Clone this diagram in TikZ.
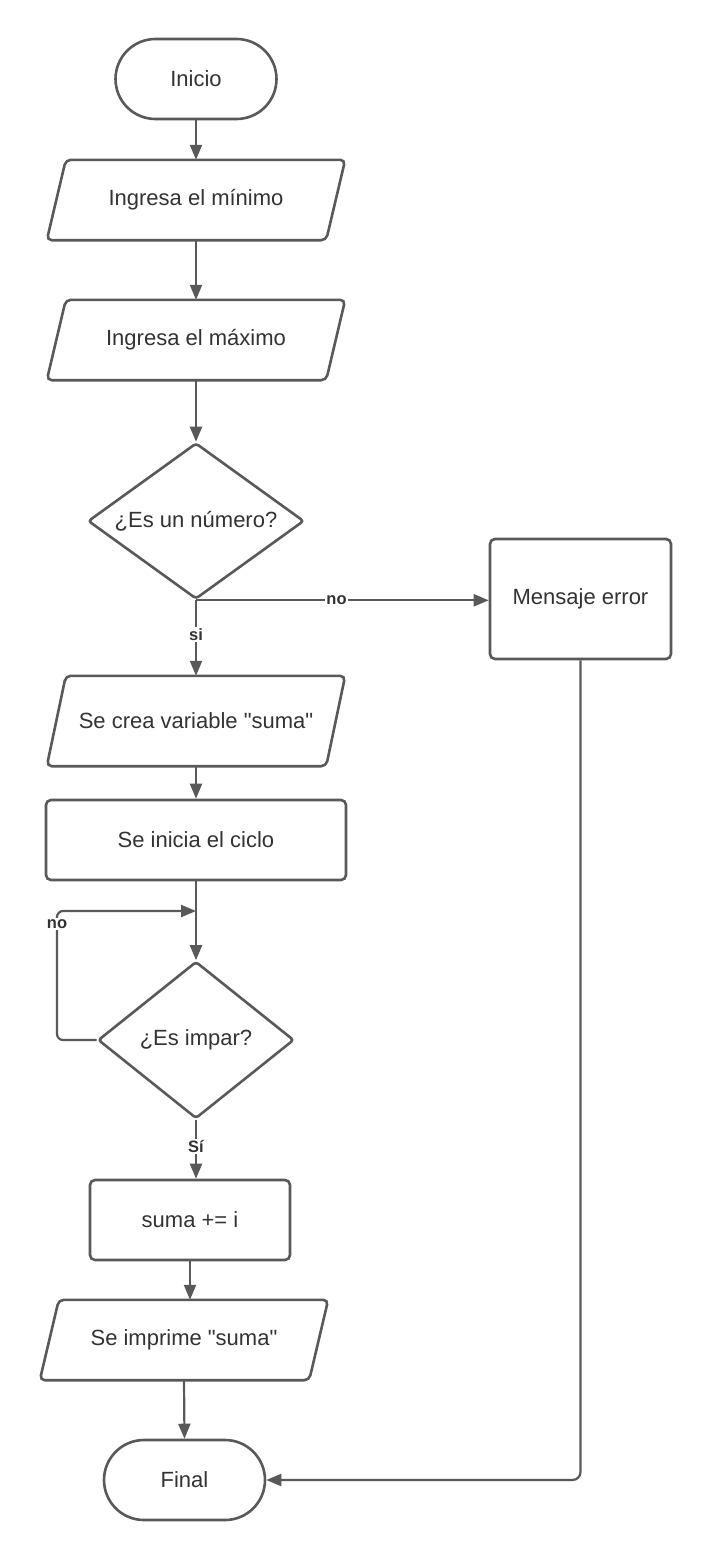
\documentclass[tikz,border=0pt]{standalone}
\usepackage{fontspec}
\setmainfont{Liberation Sans}
\usetikzlibrary{shapes.geometric,arrows.meta}
\definecolor{ln}{HTML}{595959}
\definecolor{tx}{HTML}{333333}
\newcommand{\drawpara}[1]{\draw[shp] ([xshift=19pt]#1.north west) -- (#1.north east) -- ([xshift=-19pt]#1.south east) -- (#1.south west) -- cycle;}
\begin{document}
\begin{tikzpicture}[x=1pt,y=-1pt,
  txt/.style={text=tx,font=\fontsize{22}{26}\selectfont,inner sep=0pt},
  shp/.style={draw=ln,line width=2.6pt,rounded corners=5pt},
  term/.style={txt,draw=ln,line width=2.6pt,rounded corners=40pt,minimum width=161pt,minimum height=80pt},
  proc/.style={txt,draw=ln,line width=2.6pt,rounded corners=5pt,minimum height=80pt},
  io/.style={txt,minimum height=80pt},
  dec/.style={txt,draw=ln,line width=2.6pt,diamond,rounded corners=3pt,aspect=1.385},
  arr/.style={draw=ln,line width=2.2pt,-{Triangle[length=15pt,width=12pt]}},
  lbl/.style={text=tx,font=\bfseries\fontsize{16.5}{19}\selectfont,fill=white,inner sep=1.5pt}
]
\useasboundingbox[fill=white] (0,0) rectangle (711,1560);

\node[term] (ini) at (196,79) {Inicio};
\node[io,minimum width=298pt] (p1) at (196,200) {Ingresa el mínimo};
\drawpara{p1}
\node[io,minimum width=298pt] (p2) at (196,340) {Ingresa el máximo};
\drawpara{p2}
\node[dec,minimum width=216pt,minimum height=156pt] (d1) at (196,521) {¿Es un número?};
\node[proc,minimum width=181pt,minimum height=120pt] (err) at (580.5,599) {Mensaje error};
\node[io,minimum width=298pt,minimum height=90pt] (p3) at (196,721) {Se crea variable \textquotedbl suma\textquotedbl};
\drawpara{p3}
\node[proc,minimum width=300pt] (cic) at (196,840) {Se inicia el ciclo};
\node[dec,minimum width=196pt,minimum height=157pt] (d2) at (196,1040) {¿Es impar?};
\node[proc,minimum width=200pt] (sum) at (190,1220) {suma += i};
\node[io,minimum width=288pt] (p4) at (184,1340) {Se imprime \textquotedbl suma\textquotedbl};
\drawpara{p4}
\node[term] (fin) at (184.5,1480) {Final};

\coordinate (join) at (196,911);
\coordinate (loopx) at (57,1040);

\draw[arr] (ini.south) -- (p1.north);
\draw[arr] (p1.south) -- (p2.north);
\draw[arr] (p2.south) -- (d1.north);
\draw[arr] (d1.south) -- node[lbl,pos=0.48] (no1) {no} (d1.south -| err.west);
\draw[arr] (d1.south) -- node[lbl,pos=0.45] (si1) {si} (p3.north);
\draw[arr] (p3.south) -- (cic.north);
\draw[arr] (cic.south) -- (d2.north);
\draw[arr,rounded corners=6pt] (d2.west) -- (loopx) |- (join);
\node[lbl] (no2) at (57,924) {no};
\draw[arr] (d2.south) -- node[lbl,pos=0.45] (si2) {Sí} (d2.south |- sum.north);
\draw[arr] (sum.south) -- (sum.south |- p4.north);
\draw[arr] (p4.south) -- (fin.north);
\draw[arr,rounded corners=8pt] (err.south) |- (fin.east);
\end{tikzpicture}
\end{document}
